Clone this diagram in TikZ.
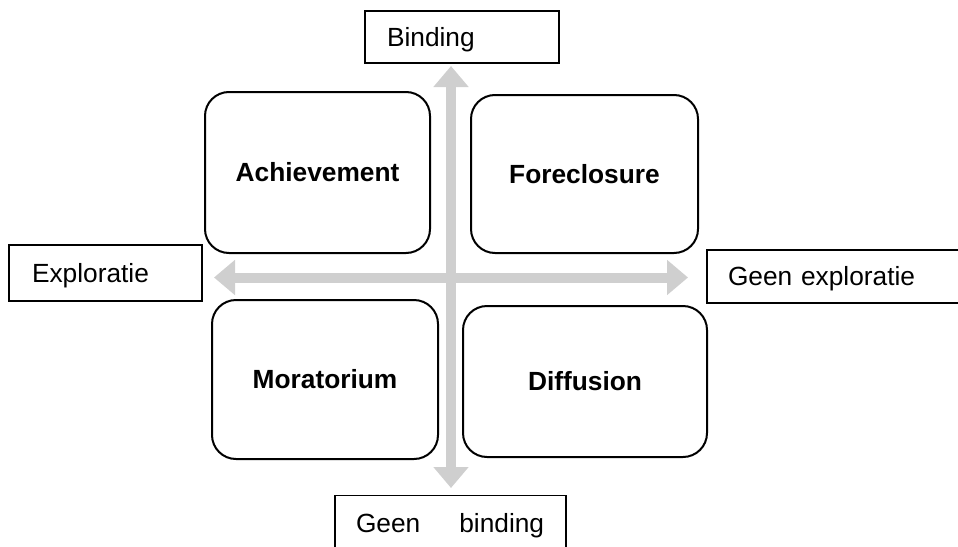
\documentclass[tikz,border=0pt]{standalone}
\usepackage{fontspec}
\setmainfont{Liberation Sans}
\usetikzlibrary{arrows.meta}
\definecolor{axisgray}{RGB}{207,207,207}
\begin{document}
\begin{tikzpicture}[x=1pt,y=-1pt,
  every node/.style={font=\fontsize{26.3}{30}\selectfont},
  quad/.style={draw=black, line width=2pt, rounded corners=24pt, fill=white, font=\fontsize{26.3}{30}\selectfont\bfseries},
  lab/.style={draw=black, line width=1.3pt, fill=white, align=left, text height=23.7pt, text depth=4.84pt, inner ysep=0pt},
  axis/.style={draw=axisgray, line width=10pt, {Triangle[length=21pt,width=34pt]}-{Triangle[length=21pt,width=34pt]}}
]
\useasboundingbox (0,0) rectangle (958,546);

% axes
\coordinate (vt) at (451,66);
\coordinate (vb) at (451,488);
\coordinate (hl) at (214,277.5);
\coordinate (hr) at (688,277.5);
\draw[axis] (vt) -- (vb);
\draw[axis] (hl) -- (hr);

% quadrant boxes
\node[quad, minimum width=225pt, minimum height=161pt] (ach) at (317.5,172.5) {Achievement};
\node[quad, minimum width=227pt, minimum height=158pt] (for) at (584.5,174) {Foreclosure};
\node[quad, minimum width=226pt, minimum height=159pt] (mor) at (325,379.5) {Moratorium};
\node[quad, minimum width=244pt, minimum height=151pt] (dif) at (585,381.5) {Diffusion};

% axis labels
\node[lab, inner xsep=22pt, text width=150pt, minimum height=52pt] (bind) at (462,37) {Binding};
\node[lab, inner xsep=23pt, text width=147pt, minimum height=56pt] (expl) at (105.5,273) {Exploratie};
\node[lab, inner xsep=21pt, text width=258pt, minimum height=53pt] (gexpl) at (857,276.5) {Geen exploratie};
\node[lab, inner xsep=21pt, text width=189pt, minimum height=54pt, anchor=north] (gbind) at (450.5,495) {Geen\hspace{39pt}binding};
\end{tikzpicture}
\end{document}
